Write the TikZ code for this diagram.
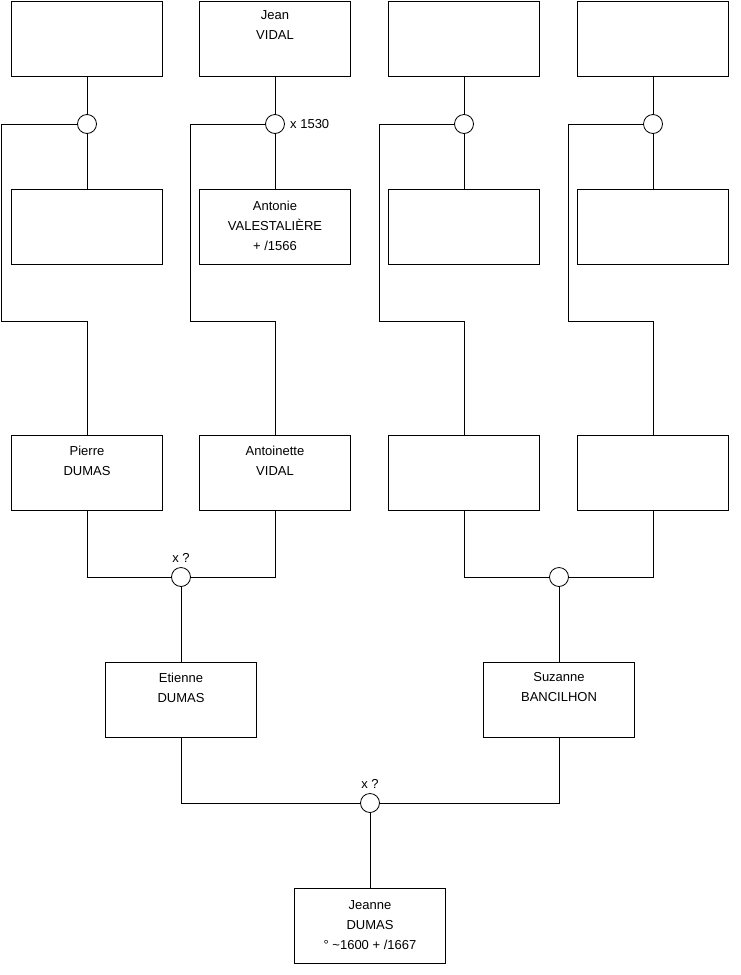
\documentclass[tikz,border=0pt]{standalone}
\usepackage{fontspec}
\setmainfont{Liberation Sans}
\begin{document}
\begin{tikzpicture}[x=1pt,y=-1pt,
  person/.style={draw,line width=0.8pt,minimum width=151pt,minimum height=75pt,inner sep=0pt},
  txt/.style={anchor=north,align=center,font=\fontsize{13}{20}\selectfont,inner sep=0pt},
  union/.style={draw,circle,line width=0.8pt,minimum size=19pt,inner sep=0pt,fill=white},
  lnk/.style={line width=0.8pt},
  lbl/.style={font=\fontsize{13}{14}\selectfont,inner sep=0pt}]
\useasboundingbox (0,0) rectangle (740,975);
% top row
\node[person] (t1) at (87,38.5) {};
\node[person] (t2) at (275,38.5) {};
\node[person] (t3) at (464,38.5) {};
\node[person] (t4) at (653,38.5) {};
\node[txt] at (275,10.5) {Jean\\VIDAL};
% second row
\node[person] (s1) at (87,227) {};
\node[person] (s2) at (275,227) {};
\node[person] (s3) at (464,227) {};
\node[person] (s4) at (653,227) {};
\node[txt] at (275,200.5) {Antonie\\VALESTALIÈRE\\+ /1566};
% third row
\node[person] (p1) at (87,472.5) {};
\node[person] (p2) at (275,472.5) {};
\node[person] (p3) at (464,472.5) {};
\node[person] (p4) at (653,472.5) {};
\node[txt] at (87,446) {Pierre\\DUMAS};
\node[txt] at (275,446) {Antoinette\\VIDAL};
% fourth row
\node[person] (e) at (181,699.5) {};
\node[person] (z) at (559,699.5) {};
\node[txt] at (181,672.5) {Etienne\\DUMAS};
\node[txt] at (559,672.5) {Suzanne\\BANCILHON};
% bottom
\node[person] (j) at (370,926) {};
\node[txt] at (370,900) {Jeanne\\DUMAS\\° \textasciitilde1600 + /1667};
% unions
\node[union] (u1) at (87,124) {};
\node[union] (u2) at (275,124) {};
\node[union] (u3) at (464,124) {};
\node[union] (u4) at (653,124) {};
\node[union] (m1) at (181,577) {};
\node[union] (m2) at (559,577) {};
\node[union] (m3) at (370,803) {};
\node[lbl,anchor=west] (l1) at (290,124) {x 1530};
\node[lbl,anchor=south] (l2) at (181,563) {x ?};
\node[lbl,anchor=south] (l3) at (370,789) {x ?};
% top links
\foreach \i in {1,2,3,4}{
  \draw[lnk] (t\i.south) -- (u\i.north);
  \draw[lnk] (u\i.south) -- (s\i.north);
}
\draw[lnk] (u1.west) -- (1,124) -- (1,321) -| (p1.north);
\draw[lnk] (u2.west) -- (190,124) -- (190,321) -| (p2.north);
\draw[lnk] (u3.west) -- (379,124) -- (379,321) -| (p3.north);
\draw[lnk] (u4.west) -- (568,124) -- (568,321) -| (p4.north);
% marriages
\draw[lnk] (p1.south) |- (m1.west);
\draw[lnk] (p2.south) |- (m1.east);
\draw[lnk] (m1.south) -- (e.north);
\draw[lnk] (p3.south) |- (m2.west);
\draw[lnk] (p4.south) |- (m2.east);
\draw[lnk] (m2.south) -- (z.north);
\draw[lnk] (e.south) |- (m3.west);
\draw[lnk] (z.south) |- (m3.east);
\draw[lnk] (m3.south) -- (j.north);
\end{tikzpicture}
\end{document}
